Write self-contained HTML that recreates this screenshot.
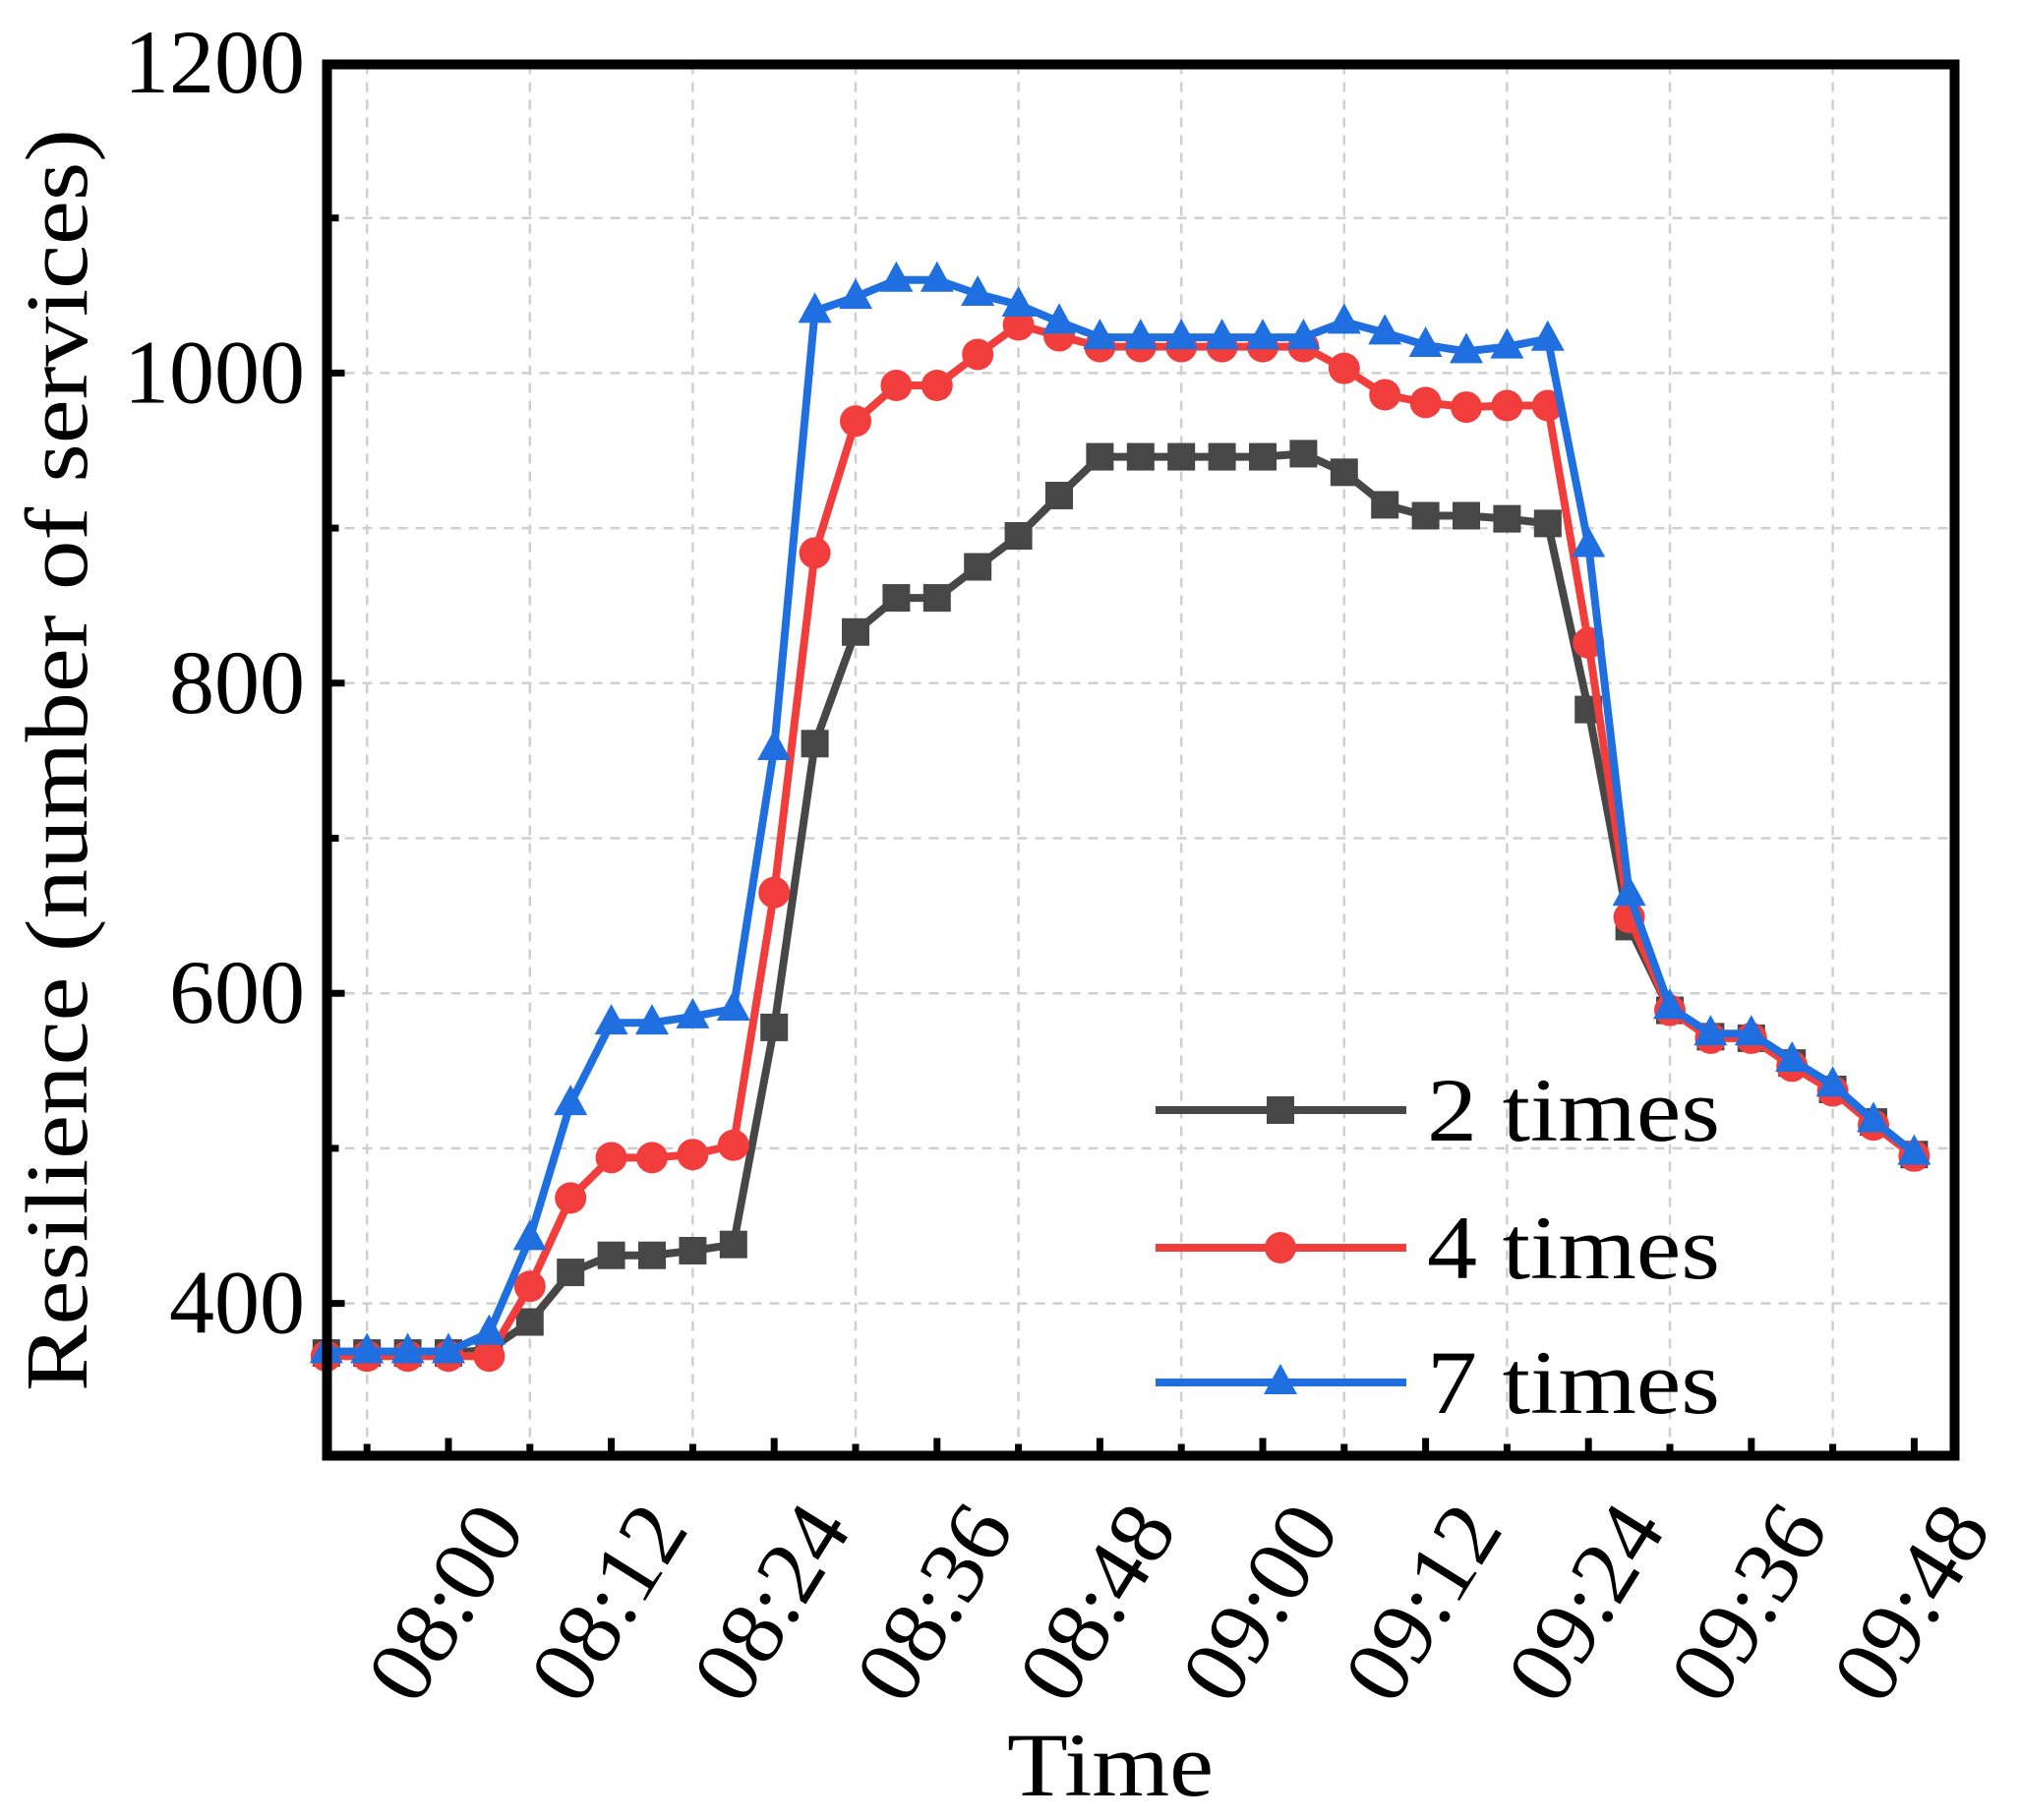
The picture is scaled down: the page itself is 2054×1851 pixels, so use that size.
<!DOCTYPE html>
<html><head><meta charset="utf-8"><style>
html,body{margin:0;padding:0;background:#fff;}
svg{display:block;font-family:"Liberation Serif",serif;}
</style></head><body>
<svg id="chart" width="2054" height="1851" viewBox="0 0 2054 1851" xmlns="http://www.w3.org/2000/svg">
<g id="grid"></g>
<g id="series"></g>
<g id="axes"></g>
<g id="legend"></g>
<text x="0" y="0" font-size="90" text-anchor="middle" textLength="1284" lengthAdjust="spacingAndGlyphs" transform="translate(88,773) rotate(-90)">Resilience (number of services)</text>
<text x="1129" y="1826" font-size="92" text-anchor="middle" textLength="210" lengthAdjust="spacingAndGlyphs">Time</text>
</svg>
<script>
const times = [];
for (let m = 471; m <= 588; m += 3) times.push(m); // 07:51 .. 09:48 every 3 min
const series2 = [368,368,368,368,370,388,420,431,431,434,438,578,761,833,855,855,875,895,921,946,946,946,946,946,948,936,915,908,908,906,903,783,643,589,572,571,555,538,517,496];
const series4 = [366,366,366,366,366,411,468,494,494,496,502,665,884,969,992,992,1012,1031,1024,1017,1017,1017,1017,1017,1017,1003,986,981,978,979,979,826,649,589,571,571,553,537,515,495];
const series7 = [369,369,369,369,381,442,529,581,581,585,590,758,1040,1049,1060,1060,1051,1044,1033,1023,1023,1023,1023,1023,1023,1033,1026,1018,1014,1017,1022,889,664,591,574,574,557,541,518,497];
const xTickLabels = ["08:00","08:12","08:24","08:36","08:48","09:00","09:12","09:24","09:36","09:48"];
const yTickLabels = [400,600,800,1000,1200];
const seriesNames = ["2 times","4 times","7 times"];

const NS = "http://www.w3.org/2000/svg";
const L = 332.5, R = 1987.5, T = 65.5, B = 1480.5;
function xs(m){ return 456 + (m - 480) / 3 * 41.4; }
function ys(v){ return 64 + (1200 - v) * 1.577; }
function mk(tag, attrs, parent){ const e = document.createElementNS(NS, tag); for (const k in attrs) e.setAttribute(k, attrs[k]); parent.appendChild(e); return e; }

const grid = document.getElementById('grid');
for (let v = 400; v <= 1100; v += 100) {
  const g = mk('line', {x1:L, x2:R, y1:ys(v), y2:ys(v), stroke:'#cfcfcf', 'stroke-width':2.5, 'stroke-dasharray':'10 8'}, grid);
  
  
}
for (let m = 474; m <= 588; m += 12) {
  const g = mk('line', {x1:xs(m), x2:xs(m), y1:T, y2:B, stroke:'#cfcfcf', 'stroke-width':2.5, 'stroke-dasharray':'10 8'}, grid);
  
  
}

const colors = ['#474747', '#f23d3d', '#1f6fe0'];
const shapes = ['square', 'circle', 'triangle'];
const datas = [series2, series4, series7];
const sg = document.getElementById('series');
function marker(shape, x, y, color, parent){
  let e;
  if (shape === 'square') e = mk('rect', {x:x-14, y:y-14, width:28, height:28, fill:color}, parent);
  else if (shape === 'circle') e = mk('circle', {cx:x, cy:y, r:16, fill:color}, parent);
  else e = mk('polygon', {points:`${x},${y-19} ${x+17},${y+12} ${x-17},${y+12}`, fill:color}, parent);
  return e;
}
datas.forEach((d, si) => {
  const g = mk('g', {}, sg);
  
  
  const pts = d.map((v, i) => xs(times[i]).toFixed(1) + ',' + ys(v).toFixed(1)).join(' ');
  const pl = mk('polyline', {points:pts, fill:'none', stroke:colors[si], 'stroke-width':8, 'stroke-linejoin':'round'}, g);
  
  
  d.forEach((v, i) => {
    const m = marker(shapes[si], xs(times[i]), ys(v), colors[si], g);
    
    
  });
});

const ax = document.getElementById('axes');
const frame = mk('rect', {x:L, y:T, width:R-L, height:B-T, fill:'none', stroke:'#000', 'stroke-width':10}, ax);


for (let m = 474; m <= 588; m += 6) {
  const major = (m - 480) % 12 === 0;
  const t = mk('line', {x1:xs(m), x2:xs(m), y1:B, y2:B-(major?18:12), stroke:'#000', 'stroke-width':7}, ax);
  
  
}
xTickLabels.forEach((lab, i) => {
  const x = xs(480 + i * 12) + 80, y = 1555;
  const t = mk('text', {x:x, y:y, 'font-size':92, 'text-anchor':'end', textLength:215, lengthAdjust:'spacingAndGlyphs', transform:`rotate(-58 ${x} ${y})`}, ax);
  t.textContent = lab;
  
  
});
for (let v = 400; v <= 1100; v += 100) {
  const major = v % 200 === 0;
  const t = mk('line', {x1:L, x2:L+(major?18:12), y1:ys(v), y2:ys(v), stroke:'#000', 'stroke-width':7}, ax);
  
  
}
yTickLabels.forEach(v => {
  const t = mk('text', {x:310, y:ys(v)+30, 'font-size':92, 'text-anchor':'end'}, ax);
  t.textContent = v;
  
  
});

const lg = document.getElementById('legend');
const rowsY = [1129, 1269, 1406];
seriesNames.forEach((n, i) => {
  const g = mk('g', {}, lg);
  
  
  mk('line', {x1:1175, x2:1430, y1:rowsY[i], y2:rowsY[i], stroke:colors[i], 'stroke-width':8}, g);
  marker(shapes[i], 1302, rowsY[i], colors[i], g);
  const t = mk('text', {x:1451, y:rowsY[i]+31, 'font-size':92, textLength:298, lengthAdjust:'spacingAndGlyphs'}, g);
  t.textContent = n;
  
  
});
</script>
</body></html>
